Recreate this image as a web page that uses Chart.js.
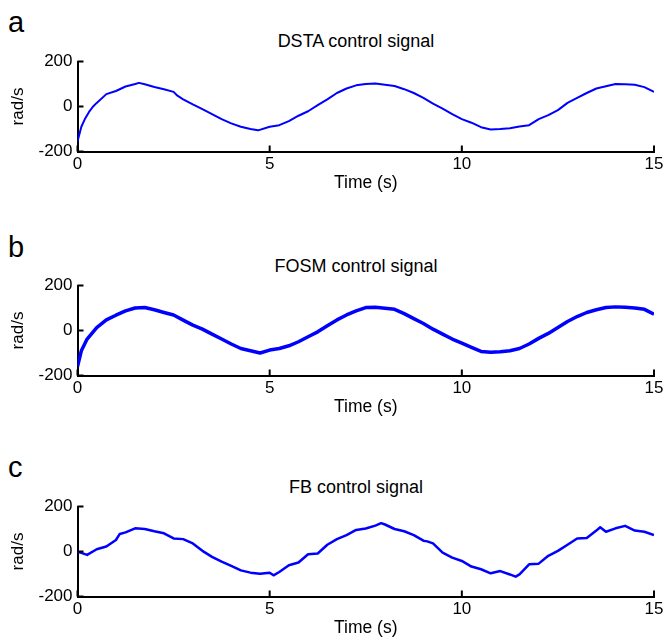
<!DOCTYPE html>
<html>
<head>
<meta charset="utf-8">
<script src="https://cdn.jsdelivr.net/npm/chart.js@4.4.1/dist/chart.umd.min.js"></script>
<style>
body{margin:0;width:665px;height:638px;overflow:hidden;background:#fff;position:relative;font-family:"Liberation Sans",Arial,sans-serif;color:#000}
.panel{position:absolute;left:0;width:665px;height:194px}
.letter{position:absolute;left:8px;font-size:29px;line-height:28px}
.ttl{position:absolute;left:356px;transform:translateX(-50%);font-size:18px;line-height:20px;white-space:nowrap}
</style>
</head>
<body>
<div class="letter" style="top:8px">a</div>
<div class="ttl" style="top:31px">DSTA control signal</div>
<div class="panel" style="top:0px"><canvas id="chartA" width="665" height="194"></canvas></div>

<div class="letter" style="top:233px">b</div>
<div class="ttl" style="top:256px">FOSM control signal</div>
<div class="panel" style="top:224px"><canvas id="chartB" width="665" height="194"></canvas></div>

<div class="letter" style="top:453px">c</div>
<div class="ttl" style="top:477px">FB control signal</div>
<div class="panel" style="top:445px"><canvas id="chartC" width="665" height="194"></canvas></div>

<script>
// values (time in s, signal in rad/s)
var timeA = [0,0.1,0.2,0.3,0.4,0.5,0.75,1,1.25,1.5,1.6,1.75,2,2.25,2.5,2.6,2.75,3,3.25,3.5,3.75,4,4.25,4.5,4.7,5,5.25,5.5,5.75,6,6.25,6.5,6.75,7,7.25,7.5,7.75,8,8.25,8.5,8.75,9,9.25,9.5,9.75,10,10.25,10.5,10.75,11,11.25,11.5,11.75,12,12.25,12.5,12.75,13,13.25,13.5,13.75,14,14.25,14.5,14.75,15];
var dsta = [-156,-90,-53,-24,-1,16,55,69,89,100,105,99,87,77,65,48,32,9,-12,-34,-56,-75,-90,-100,-106,-90,-83,-65,-41,-21,6,32,60,80,94,100,102,97,91,77,60,38,13,-9,-34,-56,-72,-92,-102,-100,-97,-89,-83,-56,-38,-16,16,38,60,80,90,100,99,97,86,65];

var timeB = [0,0.1,0.25,0.5,0.75,1,1.25,1.5,1.75,2,2.25,2.5,2.75,3,3.25,3.5,3.75,4,4.25,4.5,4.75,5,5.25,5.5,5.75,6,6.25,6.5,6.75,7,7.25,7.5,7.75,8,8.25,8.5,8.75,9,9.25,9.5,9.75,10,10.25,10.5,10.75,11,11.25,11.5,11.75,12,12.25,12.5,12.75,13,13.25,13.5,13.75,14,14.25,14.5,14.75,15];
var fosm = [-160,-90,-38,13,47,68,87,100,102,92,80,69,46,24,6,-16,-38,-60,-80,-90,-100,-87,-80,-68,-50,-28,-6,21,47,69,87,102,103,99,94,75,53,31,6,-16,-38,-56,-75,-93,-97,-94,-90,-80,-60,-35,-13,13,40,62,80,92,102,105,103,100,94,72];

var timeC = [0,0.1,0.25,0.5,0.75,1,1.1,1.25,1.5,1.75,2,2.25,2.5,2.75,3,3.25,3.5,3.75,4,4.25,4.5,4.75,5,5.1,5.25,5.5,5.75,6,6.25,6.5,6.75,7,7.25,7.5,7.75,7.9,8,8.25,8.5,8.75,9,9.1,9.25,9.5,9.75,10,10.25,10.5,10.75,11,11.25,11.4,11.5,11.75,12,12.25,12.5,12.75,13,13.25,13.5,13.6,13.75,14,14.25,14.5,14.75,15];
var fb = [-1,-6,-15,10,22,51,78,85,103,100,90,81,58,55,36,3,-24,-45,-64,-84,-94,-99,-94,-106,-91,-61,-49,-12,-9,30,55,73,96,102,115,126,120,100,90,73,48,45,36,-5,-27,-42,-67,-79,-97,-87,-102,-112,-102,-57,-54,-19,3,30,58,60,93,108,88,103,114,93,88,73];

var xTicks = [0,5,10,15];
var yTicks = [-200,0,200];

Chart.defaults.font.family = "'Liberation Sans', Arial, sans-serif";
Chart.defaults.color = '#000';

// MATLAB style ticks pointing into the plot
var innerTicks = {
  id: 'innerTicks',
  afterDraw: function(chart) {
    var ctx = chart.ctx;
    var xs = chart.scales.x, ys = chart.scales.y;
    ctx.save();
    ctx.strokeStyle = '#000';
    ctx.lineWidth = 2;
    ctx.beginPath();
    xs.ticks.forEach(function(t){
      var px = xs.getPixelForValue(t.value);
      ctx.moveTo(px, xs.top);
      ctx.lineTo(px, xs.top - 6);
    });
    ys.ticks.forEach(function(t){
      var py = ys.getPixelForValue(t.value);
      ctx.moveTo(ys.right, py);
      ctx.lineTo(ys.right + 6, py);
    });
    ctx.stroke();
    ctx.restore();
  }
};

function toPoints(t, v){
  var pts = [];
  for(var i=0;i<t.length;i++){
    pts.push({x:t[i], y:v[i]});
  }
  return pts;
}

function makeChart(id, t, v, lw){
  var ctx = document.getElementById(id).getContext('2d');
  return new Chart(ctx, {
    type: 'line',
    data: {
      datasets: [{
        data: toPoints(t, v),
        borderColor: '#0000ff',
        borderWidth: lw,
        pointRadius: 0,
        tension: 0,
        borderJoinStyle: 'round',
        fill: false
      }]
    },
    options: {
      responsive: false,
      animation: false,
      events: [],
      layout: { padding: { top: 61.5, right: 11, bottom: 0, left: 0 } },
      plugins: { legend: { display: false }, tooltip: { enabled: false } },
      scales: {
        x: {
          type: 'linear',
          min: 0, max: 15,
          afterBuildTicks: function(s){ s.ticks = xTicks.map(function(v){ return {value:v}; }); },
          ticks: { font: { size: 17 }, padding: 3, maxRotation: 0 },
          grid: { display: false, drawTicks: false },
          border: { display: true, color: '#000', width: 2 },
          title: { display: true, text: 'Time (s)', font: { size: 17.5 }, padding: 0 },
          afterFit: function(s){ s.height = 42.5; s.paddingLeft = 0; s.paddingRight = 0; }
        },
        y: {
          min: -200, max: 200,
          afterBuildTicks: function(s){ s.ticks = yTicks.map(function(v){ return {value:v}; }); },
          ticks: { font: { size: 17 }, padding: 5 },
          grid: { display: false, drawTicks: false },
          border: { display: true, color: '#000', width: 2 },
          title: { display: true, text: 'rad/s', font: { size: 17 }, padding: { top: 8, bottom: 0 } },
          afterFit: function(s){ s.width = 77.5; s.paddingTop = 0; s.paddingBottom = 0; }
        }
      }
    },
    plugins: [innerTicks]
  });
}

makeChart('chartA', timeA, dsta, 2);
makeChart('chartB', timeB, fosm, 3.5);
makeChart('chartC', timeC, fb, 2.5);
</script>
</body>
</html>
